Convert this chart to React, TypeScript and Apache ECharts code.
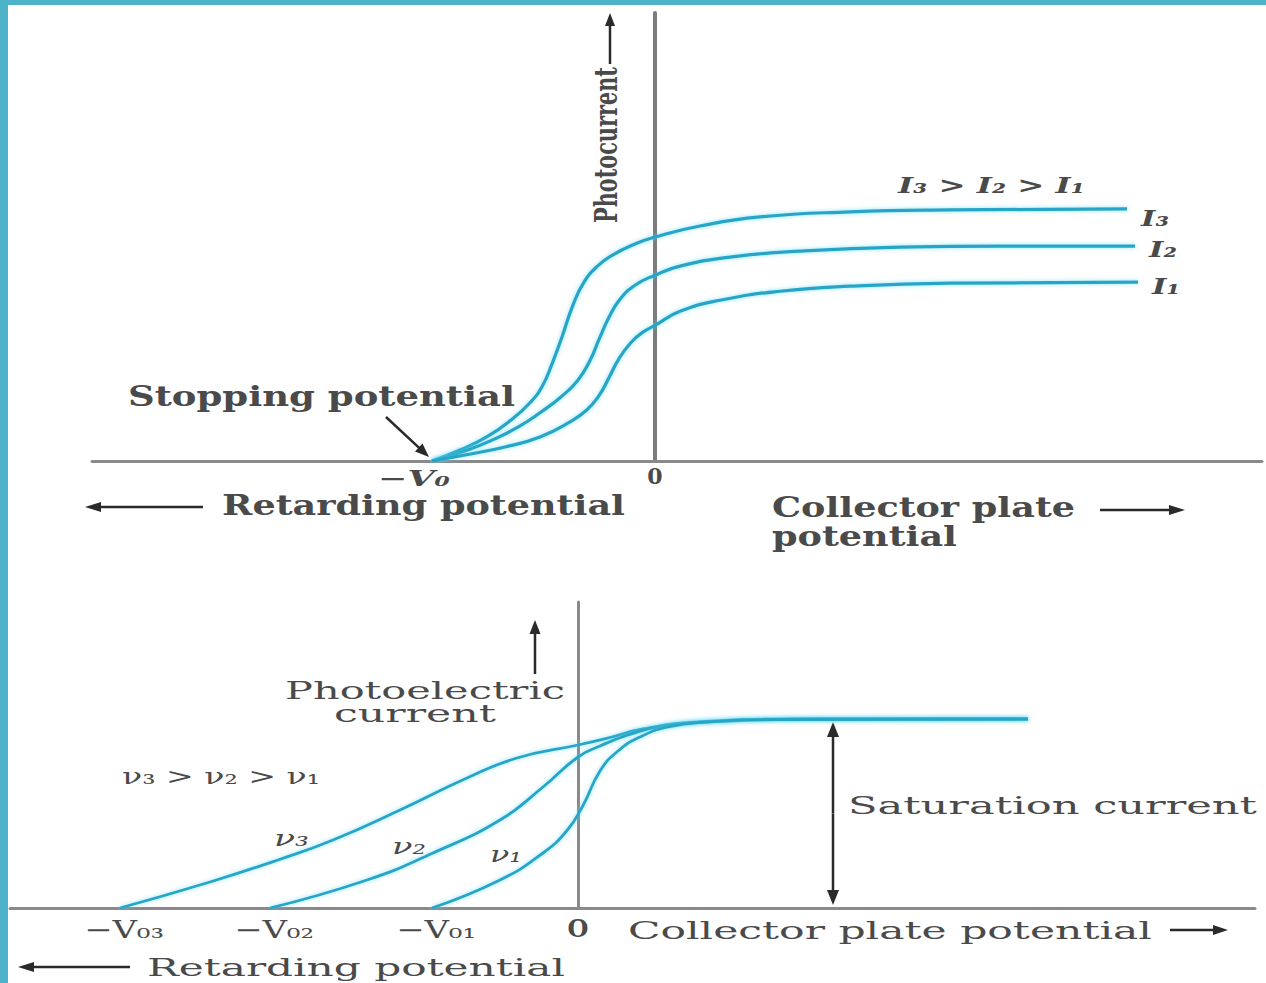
import React, { useEffect, useRef } from 'react';
import * as echarts from 'echarts';

// ---------- Top chart: photocurrent vs potential for intensities I1 < I2 < I3 ----------
const topXRange = [-11.26, 12.14];
const topYMax = 8.92;
const topV0 = -4.46; // stopping potential
const topTickValues = [topV0, 0];
const topTickLabels = ['−V₀', '0'];

const i3X = [-4.46, -3.9, -3.4, -2.9, -2.5, -2.25, -2.05, -1.85, -1.65, -1.42, -1.15, -0.85, -0.4, 0, 0.9, 2.1, 3.9, 5.9, 9.44];
const i3Y = [0, 0.22, 0.46, 0.8, 1.16, 1.5, 1.96, 2.5, 3.08, 3.56, 3.88, 4.1, 4.32, 4.46, 4.68, 4.86, 4.96, 5.0, 5.02];
const i2X = [-4.46, -3.8, -3.2, -2.7, -2.3, -1.9, -1.55, -1.3, -1.12, -0.92, -0.7, -0.4, 0, 0.5, 1.5, 2.9, 4.9, 6.9, 9.6];
const i2Y = [0, 0.2, 0.44, 0.7, 0.96, 1.26, 1.6, 2.0, 2.42, 2.86, 3.22, 3.5, 3.7, 3.88, 4.06, 4.18, 4.26, 4.28, 4.28];
const i1X = [-4.46, -3.8, -3.0, -2.3, -1.7, -1.36, -1.12, -0.92, -0.72, -0.48, -0.25, 0, 0.5, 1.3, 2.5, 3.9, 5.9, 9.66];
const i1Y = [0, 0.12, 0.28, 0.48, 0.78, 1.02, 1.3, 1.66, 2.04, 2.36, 2.56, 2.7, 2.98, 3.2, 3.38, 3.48, 3.54, 3.56];
const topSeriesNames = ['I₃', 'I₂', 'I₁'];

// ---------- Bottom chart: photoelectric current for frequencies ν1 < ν2 < ν3 ----------
const botXRange = [-11.36, 13.54];
const botYMax = 6.12;
const saturation = 3.78;
const saturationArrowX = 5.1;
const botTickValues = [-9.16, -6.16, -2.92, 0];
const botTickLabels = ['−V₀₃', '−V₀₂', '−V₀₁', 'O'];

const n3X = [-9.16, -7.36, -6, -4.9, -3.56, -2.22, -1.22, 0, 0.6, 1.3, 2.4, 4.4, 6, 9];
const n3Y = [0, 0.52, 0.96, 1.36, 1.96, 2.6, 3.0, 3.26, 3.4, 3.58, 3.72, 3.78, 3.78, 3.78];
const n2X = [-6.16, -4.22, -2.9, -1.56, -0.7, 0, 0.44, 1.0, 1.7, 3, 5, 9];
const n2Y = [0, 0.56, 1.1, 1.76, 2.42, 3.02, 3.24, 3.46, 3.64, 3.74, 3.78, 3.78];
const n1X = [-2.92, -1.56, -0.7, -0.22, 0.1, 0.44, 0.8, 1.24, 1.8, 2.6, 4, 9];
const n1Y = [0, 0.56, 1.1, 1.55, 2.05, 2.74, 3.14, 3.42, 3.62, 3.72, 3.77, 3.78];
const botSeriesNames = ['ν₃', 'ν₂', 'ν₁'];

const FONT = '"DejaVu Serif", "Liberation Serif", serif';
const TEXT = '#4a4a4a';
const ARROW = '#2a2a2a';
const CURVE = '#27a5c6';
const AXIS = '#8a8a8a';
const BORDER = '#4db3c8';

let measureCtx: CanvasRenderingContext2D | null = null;
function measure(text: string, size: number, weight: string, style: string) {
  if (!measureCtx) measureCtx = document.createElement('canvas').getContext('2d');
  measureCtx!.font = `${style} ${weight} ${size}px "DejaVu Serif"`;
  return measureCtx!.measureText(text).width || 1;
}

type TOpts = { weight?: string; style?: string; color?: string; scaleY?: number; rotation?: number };

// text whose width is stretched to fit [left, right]
function fitText(text: string, left: number, right: number, cy: number, size: number, o: TOpts = {}) {
  const weight = o.weight || 'normal';
  const style = o.style || 'normal';
  const w = measure(text, size, weight, style);
  return {
    type: 'text',
    x: left,
    y: cy,
    scaleX: (right - left) / w,
    scaleY: o.scaleY || 1,
    rotation: o.rotation || 0,
    silent: true,
    style: {
      text,
      fontSize: size,
      fontWeight: weight,
      fontStyle: style,
      fontFamily: FONT,
      fill: o.color || TEXT,
      textAlign: 'left',
      textVerticalAlign: 'middle',
    },
  };
}

function centerText(text: string, cx: number, cy: number, size: number, width: number | null, o: TOpts = {}) {
  const weight = o.weight || 'normal';
  const style = o.style || 'normal';
  const w = measure(text, size, weight, style);
  return {
    type: 'text',
    x: cx,
    y: cy,
    scaleX: width ? width / w : 1,
    silent: true,
    style: {
      text,
      fontSize: size,
      fontWeight: weight,
      fontStyle: style,
      fontFamily: FONT,
      fill: o.color || TEXT,
      textAlign: 'center',
      textVerticalAlign: 'middle',
    },
  };
}

function arrow(x1: number, y1: number, x2: number, y2: number, head = 14, half = 5.5, width = 2.5) {
  const dx = x2 - x1;
  const dy = y2 - y1;
  const len = Math.hypot(dx, dy);
  const ux = dx / len;
  const uy = dy / len;
  const bx = x2 - ux * head;
  const by = y2 - uy * head;
  return [
    {
      type: 'line',
      silent: true,
      shape: { x1, y1, x2: bx + ux * 2, y2: by + uy * 2 },
      style: { stroke: ARROW, lineWidth: width },
    },
    {
      type: 'polygon',
      silent: true,
      shape: {
        points: [
          [x2, y2],
          [bx - uy * half, by + ux * half],
          [bx + uy * half, by - ux * half],
        ],
      },
      style: { fill: ARROW },
    },
  ];
}

function zip(xs: number[], ys: number[]) {
  return xs.map((x, i) => [x, ys[i]]);
}

function curveSeries(name: string, xs: number[], ys: number[], idx: number, width: number) {
  return {
    name,
    type: 'line',
    xAxisIndex: idx,
    yAxisIndex: idx,
    data: zip(xs, ys),
    showSymbol: false,
    smooth: 0.5,
    silent: true,
    lineStyle: {
      color: CURVE,
      width,
      shadowColor: 'rgba(90, 215, 245, 0.7)',
      shadowBlur: 4,
    },
  };
}

function axisPair(min: number, max: number, yMax: number, idx: number, xWidth: number, yWidth: number, yColor: string) {
  const common = {
    axisTick: { show: false },
    axisLabel: { show: false },
    splitLine: { show: false },
  };
  return {
    x: {
      type: 'value',
      gridIndex: idx,
      min,
      max,
      axisLine: { show: true, onZero: true, lineStyle: { color: AXIS, width: xWidth } },
      ...common,
    },
    y: {
      type: 'value',
      gridIndex: idx,
      min: 0,
      max: yMax,
      axisLine: { show: true, onZero: true, lineStyle: { color: yColor, width: yWidth } },
      ...common,
    },
  };
}

export default function App() {
  const ref = useRef<HTMLDivElement>(null);

  useEffect(() => {
    document.body.style.margin = '0';
    const chart = echarts.init(ref.current!, null, { renderer: 'svg' });
    const top = axisPair(topXRange[0], topXRange[1], topYMax, 0, 3, 4, '#7c7c7c');
    const bot = axisPair(botXRange[0], botXRange[1], botYMax, 1, 3, 3, AXIS);

    chart.setOption({
      animation: false,
      backgroundColor: '#ffffff',
      grid: [
        { left: 92, top: 13, width: 1170, height: 448 },
        { left: 10, top: 602, width: 1245, height: 306 },
      ],
      xAxis: [top.x, bot.x],
      yAxis: [top.y, bot.y],
      series: [
        curveSeries(topSeriesNames[0], i3X, i3Y, 0, 3.2),
        curveSeries(topSeriesNames[1], i2X, i2Y, 0, 3.2),
        curveSeries(topSeriesNames[2], i1X, i1Y, 0, 3.2),
        curveSeries(botSeriesNames[0], n3X, n3Y, 1, 2.8),
        curveSeries(botSeriesNames[1], n2X, n2Y, 1, 2.8),
        curveSeries(botSeriesNames[2], n1X, n1Y, 1, 2.8),
      ],
    });

    const px = (g: number, x: number, y: number) => chart.convertToPixel({ gridIndex: g }, [x, y]) as number[];

    const g: any[] = [];
    // frame border (teal strip on left and top)
    g.push({ type: 'rect', silent: true, shape: { x: 0, y: 0, width: 8, height: 983 }, style: { fill: BORDER } });
    g.push({ type: 'rect', silent: true, shape: { x: 0, y: 0, width: 1266, height: 5 }, style: { fill: BORDER } });

    // ---- top chart annotations ----
    const pv = px(0, topTickValues[0], 0);
    g.push(centerText(topTickLabels[0], pv[0] - 18, pv[1] + 17, 22, 72, { weight: 'bold', style: 'italic' }));
    const pz = px(0, topTickValues[1], 0);
    g.push(centerText(topTickLabels[1], pz[0], pz[1] + 15, 22, null, { weight: 'bold' }));

    const topEnds = [
      [i3X[i3X.length - 1], i3Y[i3Y.length - 1]],
      [i2X[i2X.length - 1], i2Y[i2Y.length - 1]],
      [i1X[i1X.length - 1], i1Y[i1Y.length - 1]],
    ];
    topEnds.forEach((e, k) => {
      const p = px(0, e[0], e[1]);
      g.push(fitText(topSeriesNames[k], p[0] + 14, p[0] + 42, p[1] + [9, 3, 4][k], 22, { weight: 'bold', style: 'italic' }));
    });
    g.push(fitText('I₃ > I₂ > I₁', 898, 1085, 185, 22, { weight: 'bold', style: 'italic' }));

    g.push(fitText('Photocurrent', 605, 605 + 156, 223, 24, { weight: 'bold', rotation: Math.PI / 2, scaleY: 1.35 }));
    g.push(...arrow(610, 64, 610, 13, 13, 5, 2.5));

    g.push(fitText('Stopping potential', 128, 515, 397, 27, { weight: 'bold' }));
    g.push(...arrow(386, 417, pv[0] - 3, pv[1] - 4, 14, 5.5, 2.5));

    g.push(fitText('Retarding potential', 222, 625, 506, 27, { weight: 'bold' }));
    g.push(...arrow(203, 507, 85, 507, 16, 5, 2.5));
    g.push(fitText('Collector plate', 772, 1075, 508, 27, { weight: 'bold' }));
    g.push(fitText('potential', 772, 957, 537, 27, { weight: 'bold' }));
    g.push(...arrow(1100, 510, 1185, 510, 16, 5, 2.5));

    // ---- bottom chart annotations ----
    botTickValues.forEach((v, k) => {
      const p = px(1, v, 0);
      if (k < 3) g.push(centerText(botTickLabels[k], p[0] + 4, p[1] + 22, 24, 80, {}));
      else g.push(centerText(botTickLabels[k], p[0], p[1] + 20, 24, null, { weight: 'bold' }));
    });

    g.push(fitText('Photoelectric', 285, 565, 690, 25, {}));
    g.push(fitText('current', 334, 496, 713, 25, {}));
    g.push(...arrow(535, 674, 535, 620, 14, 5.5, 2.5));

    g.push(fitText('ν₃ > ν₂ > ν₁', 122, 320, 777, 22, {}));
    g.push(fitText(botSeriesNames[0], 274, 309, 838, 22, { style: 'italic' }));
    g.push(fitText(botSeriesNames[1], 392, 426, 847, 22, { style: 'italic' }));
    g.push(fitText(botSeriesNames[2], 490, 522, 854, 22, { style: 'italic' }));

    const sTop = px(1, saturationArrowX, saturation);
    const sBot = px(1, saturationArrowX, 0);
    g.push(...arrow(sTop[0], (sTop[1] + sBot[1]) / 2, sTop[0], sTop[1] + 3, 15, 6, 2.5));
    g.push(...arrow(sTop[0], (sTop[1] + sBot[1]) / 2, sBot[0], sBot[1] - 3, 15, 6, 2.5));
    g.push(fitText('Saturation current', 848, 1257, 805, 25, {}));

    g.push(fitText('Collector plate potential', 628, 1152, 930, 25, {}));
    g.push(...arrow(1170, 930, 1228, 930, 15, 5, 2.5));
    g.push(fitText('Retarding potential', 147, 565, 967, 25, {}));
    g.push(...arrow(130, 967, 18, 967, 16, 5, 2.5));

    chart.setOption({ graphic: g });

    return () => chart.dispose();
  }, []);

  return (
    <div
      ref={ref}
      style={{ position: 'fixed', left: 0, top: 0, width: 1266, height: 983, background: '#fff' }}
    />
  );
}
